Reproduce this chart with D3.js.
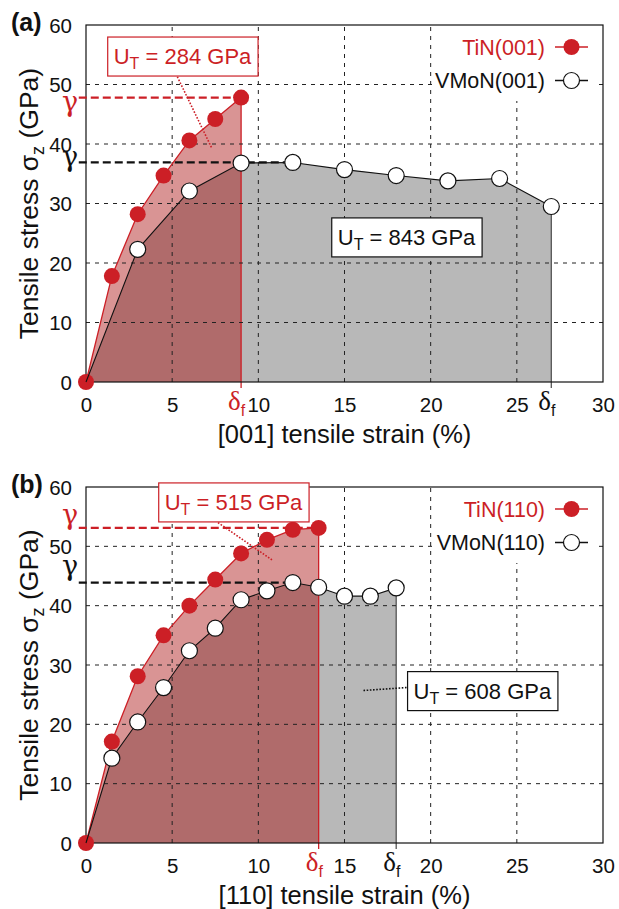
<!DOCTYPE html>
<html><head><meta charset="utf-8">
<script src="https://cdn.jsdelivr.net/npm/d3@7"></script>
<style>body{margin:0;background:#fff}</style>
</head><body>
<svg id="chart" width="619" height="909" xmlns="http://www.w3.org/2000/svg"></svg>
<script>
// ---------- data ----------
const xTicks = [0, 5, 10, 15, 20, 25, 30];
const yTicks = [0, 10, 20, 30, 40, 50, 60];

const strainTiN001  = [0, 1.5, 3, 4.5, 6, 7.5, 9];
const stressTiN001  = [0, 17.8, 28.2, 34.7, 40.6, 44.2, 47.8];
const strainVMoN001 = [0, 3, 6, 9, 12, 15, 18, 21, 24, 27];
const stressVMoN001 = [0, 22.3, 32.1, 36.8, 36.9, 35.7, 34.7, 33.8, 34.2, 29.5];

const strainTiN110  = [0, 1.5, 3, 4.5, 6, 7.5, 9, 10.5, 12, 13.5];
const stressTiN110  = [0, 17.1, 28.1, 35.0, 40.0, 44.4, 48.8, 51.1, 52.8, 53.1];
const strainVMoN110 = [0, 1.5, 3, 4.5, 6, 7.5, 9, 10.5, 12, 13.5, 15, 16.5, 18];
const stressVMoN110 = [0, 14.3, 20.4, 26.2, 32.4, 36.2, 41.0, 42.5, 43.9, 43.1, 41.6, 41.6, 43.0];

const panelLabels   = ["(a)", "(b)"];
const tinNames      = ["TiN(001)", "TiN(110)"];
const vmonNames     = ["VMoN(001)", "VMoN(110)"];
const xTitles       = ["[001] tensile strain (%)", "[110] tensile strain (%)"];
const toughTiN      = [284, 515];
const toughVMoN     = [843, 608];

// ---------- style ----------
const RED = "#cc1f26";
const FONT = "'Liberation Sans', Arial, Helvetica, sans-serif";
const SERIF = "'Liberation Serif', 'DejaVu Serif', serif";

const svg = d3.select("#chart");

function subText(sel, main, sub, rest, subSize, shift) {
  sel.append("tspan").text(main);
  sel.append("tspan").attr("font-size", subSize).attr("dy", shift).text(sub);
  if (rest) sel.append("tspan").attr("dy", -shift).text(rest);
}

function panel(cfg) {
  const L = 86, R = 603, T = cfg.top, B = cfg.top + cfg.h;
  const x = d3.scaleLinear().domain([0, 30]).range([L, R]);
  const y = d3.scaleLinear().domain([0, 60]).range([B, T]);
  const g = svg.append("g");

  const tin = cfg.tinX.map((v, i) => [v, cfg.tinY[i]]);
  const vm = cfg.vmX.map((v, i) => [v, cfg.vmY[i]]);
  const area = d3.area().x(d => x(d[0])).y0(y(0)).y1(d => y(d[1]));
  const line = d3.line().x(d => x(d[0])).y(d => y(d[1]));

  // filled areas
  g.append("path").datum(vm).attr("d", area).attr("fill", "#b8b8b8");
  g.append("path").datum(tin).attr("d", area).attr("fill", "rgb(165,0,0)").attr("fill-opacity", 0.42);

  const tinEnd = tin[tin.length - 1], vmEnd = vm[vm.length - 1];
  g.append("line").attr("x1", x(vmEnd[0])).attr("x2", x(vmEnd[0]))
    .attr("y1", y(0) + 6).attr("y2", y(vmEnd[1])).attr("stroke", "#555").attr("stroke-width", 1.3);
  g.append("line").attr("x1", x(tinEnd[0])).attr("x2", x(tinEnd[0]))
    .attr("y1", y(0) + 6).attr("y2", y(tinEnd[1])).attr("stroke", RED).attr("stroke-width", 1.3);

  // grid
  const grid = g.append("g").attr("stroke", "#222").attr("stroke-width", 1).attr("stroke-dasharray", "4,5");
  xTicks.slice(1, -1).forEach(t => grid.append("line").attr("x1", x(t)).attr("x2", x(t)).attr("y1", B).attr("y2", T));
  yTicks.slice(1, -1).forEach(t => grid.append("line").attr("x1", L).attr("x2", R).attr("y1", y(t)).attr("y2", y(t)));

  // legend background (covers grid)
  g.append("rect").attr("x", 437).attr("y", T + 1).attr("width", 160).attr("height", 75).attr("fill", "#fff");

  // axes with library
  const xa = g.append("g").attr("transform", `translate(0,${B})`)
    .call(d3.axisBottom(x).tickValues(xTicks).tickSize(0).tickPadding(0).tickFormat(d3.format("d")));
  xa.select(".domain").remove();
  xa.selectAll("text").attr("font-family", FONT).attr("font-size", 20.5).attr("fill", "#111")
    .attr("dy", null).attr("y", 30);
  const ya = g.append("g").attr("transform", `translate(${L},0)`)
    .call(d3.axisLeft(y).tickValues(yTicks).tickSize(0).tickPadding(0).tickFormat(d3.format("d")));
  ya.select(".domain").remove();
  ya.selectAll("text").attr("font-family", FONT).attr("font-size", 20.5).attr("fill", "#111")
    .attr("x", -14).attr("dy", "0.35em");

  // frame
  g.append("rect").attr("x", L).attr("y", T).attr("width", R - L).attr("height", B - T)
    .attr("fill", "none").attr("stroke", "#111").attr("stroke-width", 1.2);

  // gamma lines
  const tinMax = tin.reduce((a, b) => b[1] > a[1] ? b : a);
  const vmMax = vm.reduce((a, b) => b[1] > a[1] ? b : a);
  [[tinMax, RED, cfg.gRedDy], [vmMax, "#111", cfg.gBlkDy]].forEach(([p, c, dy]) => {
    g.append("line").attr("x1", x(-0.42)).attr("x2", x(p[0])).attr("y1", y(p[1])).attr("y2", y(p[1]))
      .attr("stroke", c).attr("stroke-width", 2.2).attr("stroke-dasharray", "8,4");
    g.append("text").attr("x", x(-0.45)).attr("y", y(p[1]) + dy).attr("text-anchor", "end")
      .attr("font-family", "'DejaVu Serif', serif").attr("font-size", 27).attr("fill", c).text("γ");
  });

  // curves & markers
  g.append("path").datum(tin).attr("d", line).attr("fill", "none").attr("stroke", RED).attr("stroke-width", 1.3);
  g.selectAll(".tinpt").data(tin).join("circle").attr("cx", d => x(d[0])).attr("cy", d => y(d[1]))
    .attr("r", 8).attr("fill", RED);
  g.append("path").datum(vm).attr("d", line).attr("fill", "none").attr("stroke", "#111").attr("stroke-width", 1.1);
  g.selectAll(".vmpt").data(vm.filter(d => d[0] > 0)).join("circle").attr("cx", d => x(d[0])).attr("cy", d => y(d[1]))
    .attr("r", 8).attr("fill", "#fff").attr("stroke", "#111").attr("stroke-width", 1.2);

  // delta_f labels
  [[tinEnd, RED], [vmEnd, "#111"]].forEach(([p, c]) => {
    const t = g.append("text").attr("x", x(p[0]) - 13).attr("y", B + 28).attr("fill", c);
    t.append("tspan").attr("font-family", SERIF).attr("font-size", 27).text("δ");
    t.append("tspan").attr("font-family", FONT).attr("font-size", 16).attr("dy", 6).text("f");
  });

  // legend
  const leg = [[cfg.tinName, RED, true], [cfg.vmName, "#111", false]];
  leg.forEach(([name, c, filled], i) => {
    const yy = T + 22 + i * 33.5;
    g.append("text").attr("x", 545).attr("y", yy).attr("dy", "0.35em").attr("text-anchor", "end")
      .attr("font-family", FONT).attr("font-size", 21.5).attr("fill", c).text(name);
    g.append("line").attr("x1", 555).attr("x2", 588).attr("y1", yy).attr("y2", yy).attr("stroke", c).attr("stroke-width", 1.3);
    g.append("circle").attr("cx", 571.5).attr("cy", yy).attr("r", 8)
      .attr("fill", filled ? RED : "#fff").attr("stroke", filled ? "none" : "#111").attr("stroke-width", 1.2);
  });

  // annotation boxes
  function box(val, cx, cy, c, lineFrom, lineTo) {
    if (lineFrom) {
      g.append("line").attr("x1", x(lineFrom[0])).attr("y1", y(lineFrom[1]))
        .attr("x2", x(lineTo[0])).attr("y2", y(lineTo[1]))
        .attr("stroke", c).attr("stroke-width", 1.6).attr("stroke-dasharray", "1.6,1.6");
    }
    const bg = g.append("rect");
    const t = g.append("text").attr("x", x(cx)).attr("y", y(cy)).attr("dy", "0.35em").attr("text-anchor", "middle")
      .attr("font-family", FONT).attr("font-size", 22).attr("fill", c);
    subText(t, "U", "T", " = " + val + " GPa", 16, 5);
    const bb = t.node().getBBox();
    bg.attr("x", bb.x - 6).attr("y", y(cy) - 19.5).attr("width", bb.width + 12).attr("height", 39)
      .attr("fill", "#fff").attr("stroke", c).attr("stroke-width", 1.2);
  }
  box(cfg.tinTough, cfg.redBox[0], cfg.redBox[1], RED, cfg.redLine[0], cfg.redLine[1]);
  box(cfg.vmTough, cfg.blkBox[0], cfg.blkBox[1], "#111", cfg.blkLine ? cfg.blkLine[0] : null, cfg.blkLine ? cfg.blkLine[1] : null);

  // titles
  g.append("text").attr("x", 11).attr("y", T + 6).attr("font-family", FONT).attr("font-weight", "bold")
    .attr("font-size", 25).attr("fill", "#111").text(cfg.label);
  const yt = g.append("text").attr("transform", `translate(38,${(T + B) / 2}) rotate(-90)`)
    .attr("text-anchor", "middle").attr("font-family", FONT).attr("font-size", 26.5).attr("fill", "#111");
  subText(yt, "Tensile stress σ", "z", " (GPa)", 18, 6);
  g.append("text").attr("x", (L + R) / 2).attr("y", B + 61).attr("text-anchor", "middle")
    .attr("font-family", FONT).attr("font-size", 25.5).attr("fill", "#111").text(cfg.xTitle);
}

panel({
  top: 25, h: 357, label: panelLabels[0],
  tinX: strainTiN001, tinY: stressTiN001, vmX: strainVMoN001, vmY: stressVMoN001,
  tinName: tinNames[0], vmName: vmonNames[0], xTitle: xTitles[0],
  tinTough: toughTiN[0], vmTough: toughVMoN[0],
  gRedDy: 13, gBlkDy: 4,
  redBox: [5.6, 54.7], redLine: [[5.3, 51.3], [7.3, 39.3]],
  blkBox: [18.6, 24.3], blkLine: null
});
panel({
  top: 487, h: 356, label: panelLabels[1],
  tinX: strainTiN110, tinY: stressTiN110, vmX: strainVMoN110, vmY: stressVMoN110,
  tinName: tinNames[1], vmName: vmonNames[1], xTitle: xTitles[1],
  tinTough: toughTiN[1], vmTough: toughVMoN[1],
  gRedDy: -4, gBlkDy: -8,
  redBox: [8.56, 57.4], redLine: [[7.66, 54.0], [10.85, 47.6]],
  blkBox: [23.0, 25.6], blkLine: [[16.1, 25.7], [18.6, 26.2]]
});
</script>
</body></html>
